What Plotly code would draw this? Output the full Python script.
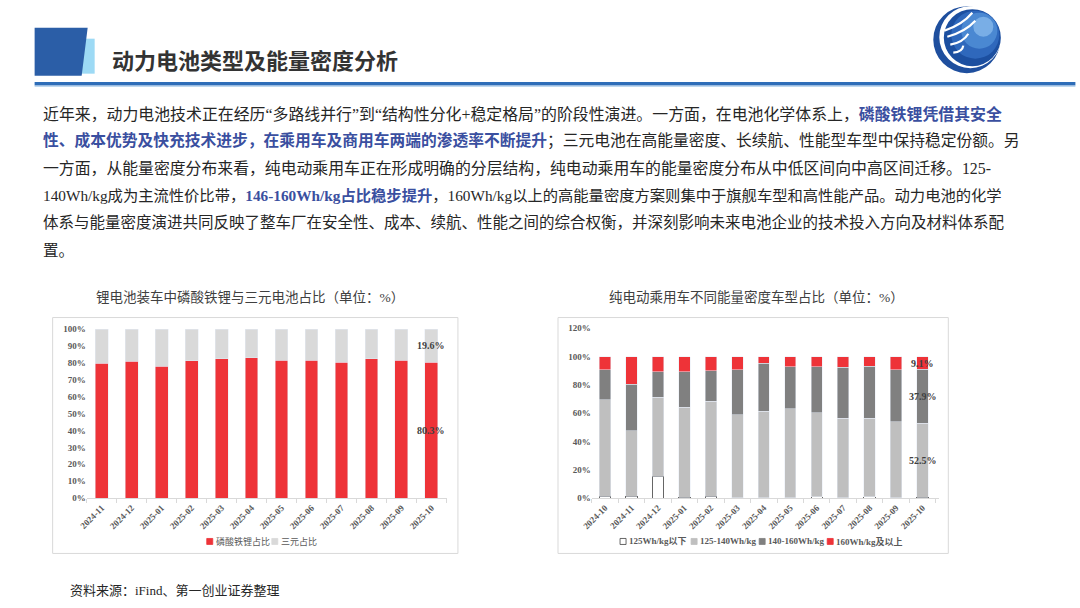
#encoding=utf-8
""" slide: 动力电池类型及能量密度分析 - two stacked bar charts
left: LFP vs ternary share of installed batteries, right: BEV passenger cars by energy density band
"""

import plotly.graph_objects as go

# data
lfp_months = ['2024-11', '2024-12', '2025-01', '2025-02', '2025-03', '2025-04',
              '2025-05', '2025-06', '2025-07', '2025-08', '2025-09', '2025-10']
lfp_share = [79.6, 80.8, 77.8, 81.2, 82.2, 82.8, 81.4, 81.4, 80.2, 82.4, 81.6, 80.3]
ncm_share = [20.3, 19.1, 22.1, 18.7, 17.7, 17.1, 18.5, 18.5, 19.7, 17.5, 18.3, 19.6]

ev_months = ['2024-10', '2024-11', '2024-12', '2025-01', '2025-02', '2025-03', '2025-04',
             '2025-05', '2025-06', '2025-07', '2025-08', '2025-09', '2025-10']
below_125 = [1.2, 1.2, 15.5, 0.7, 1.2, 0.3, 0.2, 0.3, 1.0, 0.3, 1.0, 0.2, 0.5]
band_125_140 = [68.2, 46.3, 55.6, 63.5, 67.3, 58.5, 61.2, 62.8, 59.5, 56.2, 55.5, 53.9, 52.5]
band_140_160 = [21.4, 33.0, 18.3, 25.2, 21.6, 31.8, 33.9, 29.8, 32.4, 36.0, 36.7, 36.7, 37.9]
above_160 = [9.2, 19.5, 10.6, 10.6, 9.9, 9.4, 4.7, 7.1, 7.1, 7.5, 6.8, 9.2, 9.1]

W, H = 1080, 608
RED = '#EE3338'
SERIF = 'Liberation Serif, Noto Sans CJK SC'
GREY_TXT = '#595959'

# the photo of the page came out slightly shrunk and shifted; undo that so the
# slide-pixel positions below land where they are on the original slide
SX, OX = 0.99, 10.4
SY, OY = 0.984, 4.3


def px(x):
	return ((x - OX) / SX) / W


def py(y):
	return 1 - ((y - OY) / SY) / H


fig = go.Figure()

# left chart
fig.add_trace(go.Bar(x=lfp_months, y=lfp_share, name='磷酸铁锂占比', marker_color=RED,
                     xaxis='x', yaxis='y'))
fig.add_trace(go.Bar(x=lfp_months, y=ncm_share, name='三元占比', marker_color='#D9D9D9',
                     xaxis='x', yaxis='y'))

# right chart
fig.add_trace(go.Bar(x=ev_months, y=below_125, name='125Wh/kg以下', marker_color='white',
                     marker_line=dict(color='#404040', width=0.8),
                     xaxis='x2', yaxis='y2'))
fig.add_trace(go.Bar(x=ev_months, y=band_125_140, name='125-140Wh/kg', marker_color='#BFBFBF',
                     xaxis='x2', yaxis='y2'))
fig.add_trace(go.Bar(x=ev_months, y=band_140_160, name='140-160Wh/kg', marker_color='#808080',
                     xaxis='x2', yaxis='y2'))
fig.add_trace(go.Bar(x=ev_months, y=above_160, name='160Wh/kg及以上', marker_color=RED,
                     xaxis='x2', yaxis='y2'))

tickfont = dict(family=SERIF, size=9, color=GREY_TXT, weight='bold')
xcommon = dict(type='category', tickangle=-45, tickfont=tickfont, showline=True,
               linecolor='#D9D9D9', linewidth=1, ticks='outside', tickson='boundaries',
               ticklen=4, tickcolor='#D9D9D9', showgrid=False, fixedrange=True)
ycommon = dict(ticksuffix='%', tickfont=tickfont, showgrid=False, zeroline=False,
               showline=False, ticks='', fixedrange=True)

fig.update_layout(
	margin=dict(l=0, r=0, t=0, b=0),
	paper_bgcolor='white', plot_bgcolor='white',
	barmode='stack',
	bargap=0.57,
	showlegend=False,
	xaxis=dict(domain=[px(87), px(447.5)], anchor='y', **xcommon),
	yaxis=dict(domain=[py(497.7), py(328.3)], anchor='x', range=[0, 100], dtick=10, **ycommon),
	xaxis2=dict(domain=[px(591.7), px(938.3)], anchor='y2', **xcommon),
	yaxis2=dict(domain=[py(497.7), py(327.7)], anchor='x2', range=[0, 120], dtick=20, **ycommon),
)

shapes = []
annotations = []

# header block: light blue tab behind the dark blue parallelogram
shapes.append(dict(type='rect', xref='paper', yref='paper', x0=px(78), x1=px(95), y0=py(73), y1=py(38),
                   fillcolor='#9DDAF5', line_width=0, layer='below'))
shapes.append(dict(type='path', xref='paper', yref='paper',
                   path='M %f,%f L %f,%f L %f,%f L %f,%f Z' % (px(35), py(27), px(88), py(27),
                                                              px(82), py(75), px(35), py(75)),
                   fillcolor='#2B5EA7', line_width=0, layer='below'))
# header rule
shapes.append(dict(type='line', xref='paper', yref='paper', x0=px(35), x1=px(1075), y0=py(83), y1=py(83),
                   line=dict(color='#2E6DB8', width=3.5)))
shapes.append(dict(type='line', xref='paper', yref='paper', x0=px(35), x1=px(1075), y0=py(85.6), y1=py(85.6),
                   line=dict(color='#A9CBEA', width=1.2)))


def circle(cx, cy, r, color):
	return dict(type='circle', xref='paper', yref='paper', x0=px(cx - r), x1=px(cx + r),
	            y0=py(cy + r), y1=py(cy - r), fillcolor=color, line_width=0)


# logo: globe with crescent, rough gradient with stacked circles
shapes.append(circle(966.5, 39, 33.5, '#1F4F9E'))
shapes.append(circle(970, 36.5, 31, 'white'))
shapes.append(circle(972, 37, 28.5, '#1C4FA0'))
shapes.append(circle(975, 34, 24, '#2F68BC'))
shapes.append(circle(979, 30, 18, '#4A88D2'))
shapes.append(circle(983, 26, 10, '#79AEE6'))
# white streaks across the upper left of the globe
for (x0, y0, x1, y1) in [(944, 30, 972, 12), (947, 36, 975, 20), (950, 44, 968, 33), (953, 52, 963, 45)]:
	shapes.append(dict(type='path', xref='paper', yref='paper',
	                   path='M %f,%f Q %f,%f %f,%f' % (px(x0), py(y0), px((x0 + x1) / 2 + 4), py((y0 + y1) / 2 + 3),
	                                                  px(x1), py(y1)),
	                   line=dict(color='white', width=2.2)))

# chart frames
for (x0, x1) in [(53, 458), (558, 948)]:
	shapes.append(dict(type='rect', xref='paper', yref='paper', x0=px(x0), x1=px(x1), y0=py(553), y1=py(317),
	                   line=dict(color='#D9D9D9', width=1), fillcolor='rgba(0,0,0,0)', layer='below'))

# compact excel-like legends: small square + label, built from the traces
legend_x = [210, 275, 623, 694, 762, 830]
for tr, lx in zip(fig.data, legend_x):
	mk = tr.marker
	lc = mk.line.color if mk.line.color else mk.color
	shapes.append(dict(type='rect', xref='paper', yref='paper', x0=px(lx - 3), x1=px(lx + 3),
	                   y0=py(544), y1=py(538), fillcolor=mk.color, line=dict(color=lc, width=0.8)))
	bold = tr.xaxis == 'x2'
	annotations.append(dict(text=tr.name, x=px(lx + 4), y=py(541), xref='paper', yref='paper',
	                        xanchor='left', yanchor='middle', showarrow=False,
	                        font=dict(family=SERIF, size=9, color=GREY_TXT,
	                                  weight='bold' if bold else 'normal')))

fig.update_layout(shapes=shapes)

BLUE = '#3A4FA0'
para = [
	'近年来，动力电池技术正在经历“多路线并行”到“结构性分化+稳定格局”的阶段性演进。一方面，在电池化学体系上，'
	'<b><span style="color:%s">磷酸铁锂凭借其安全</span></b>' % BLUE,
	'<b><span style="color:%s">性、成本优势及快充技术进步，在乘用车及商用车两端的渗透率不断提升</span></b>'
	'；三元电池在高能量密度、长续航、性能型车型中保持稳定份额。另' % BLUE,
	'一方面，从能量密度分布来看，纯电动乘用车正在形成明确的分层结构，纯电动乘用车的能量密度分布从中低区间向中高区间迁移。125-',
	'140Wh/kg成为主流性价比带，<b><span style="color:%s">146-160Wh/kg占比稳步提升</span></b>'
	'，160Wh/kg以上的高能量密度方案则集中于旗舰车型和高性能产品。动力电池的化学' % BLUE,
	'体系与能量密度演进共同反映了整车厂在安全性、成本、续航、性能之间的综合权衡，并深刻影响未来电池企业的技术投入方向及材料体系配',
	'置。',
]
# per-line size so every full line ends near the right margin, like justified text
para_size = [15.9, 15.75, 15.85, 15.3, 15.5, 15.5]

annotations.append(dict(text='<b>动力电池类型及能量密度分析</b>', x=px(110), y=py(58), xref='paper', yref='paper',
                        xanchor='left', yanchor='middle', showarrow=False,
                        font=dict(family='Noto Sans CJK SC', size=22, color='#333333')))
for i, line in enumerate(para):
	annotations.append(dict(text=line, x=px(41), y=py(113 + 27.3 * i), xref='paper', yref='paper',
	                        xanchor='left', yanchor='middle', showarrow=False,
	                        font=dict(family=SERIF, size=para_size[i], color='#262626')))

annotations.append(dict(text='锂电池装车中磷酸铁锂与三元电池占比（单位：%）', x=px(250), y=py(296),
                        xref='paper', yref='paper', xanchor='center', yanchor='middle', showarrow=False,
                        font=dict(family=SERIF, size=13.5, color='#404040')))
annotations.append(dict(text='纯电动乘用车不同能量密度车型占比（单位：%）', x=px(756), y=py(296),
                        xref='paper', yref='paper', xanchor='center', yanchor='middle', showarrow=False,
                        font=dict(family=SERIF, size=13.5, color='#404040')))
annotations.append(dict(text='资料来源：iFind、第一创业证券整理', x=px(68), y=py(590), xref='paper', yref='paper',
                        xanchor='left', yanchor='middle', showarrow=False,
                        font=dict(family=SERIF, size=13, color='#262626')))

# data labels on the latest bars, centred in their segments
lblfont = dict(family=SERIF, size=10, color='#404040', weight='bold')
last = lfp_months[-1]
annotations.append(dict(text='%.1f%%' % ncm_share[-1], x=last, y=lfp_share[-1] + ncm_share[-1] / 2,
                        xref='x', yref='y', showarrow=False, font=lblfont))
annotations.append(dict(text='%.1f%%' % lfp_share[-1], x=last, y=lfp_share[-1] / 2,
                        xref='x', yref='y', showarrow=False, font=lblfont))
last = ev_months[-1]
base = below_125[-1]
annotations.append(dict(text='%.1f%%' % band_125_140[-1], x=last, y=base + band_125_140[-1] / 2,
                        xref='x2', yref='y2', showarrow=False, font=lblfont))
base += band_125_140[-1]
annotations.append(dict(text='%.1f%%' % band_140_160[-1], x=last, y=base + band_140_160[-1] / 2,
                        xref='x2', yref='y2', showarrow=False, font=lblfont))
base += band_140_160[-1]
annotations.append(dict(text='%.1f%%' % above_160[-1], x=last, y=base + above_160[-1] / 2,
                        xref='x2', yref='y2', showarrow=False, font=lblfont))

fig.update_layout(annotations=annotations)

# pin the plot div to the window corner so the body margin does not shift it
fig.write_html('out.html', config={'displayModeBar': False},
               default_width='1080px; position:fixed; left:0; top:0',
               default_height='608px')
